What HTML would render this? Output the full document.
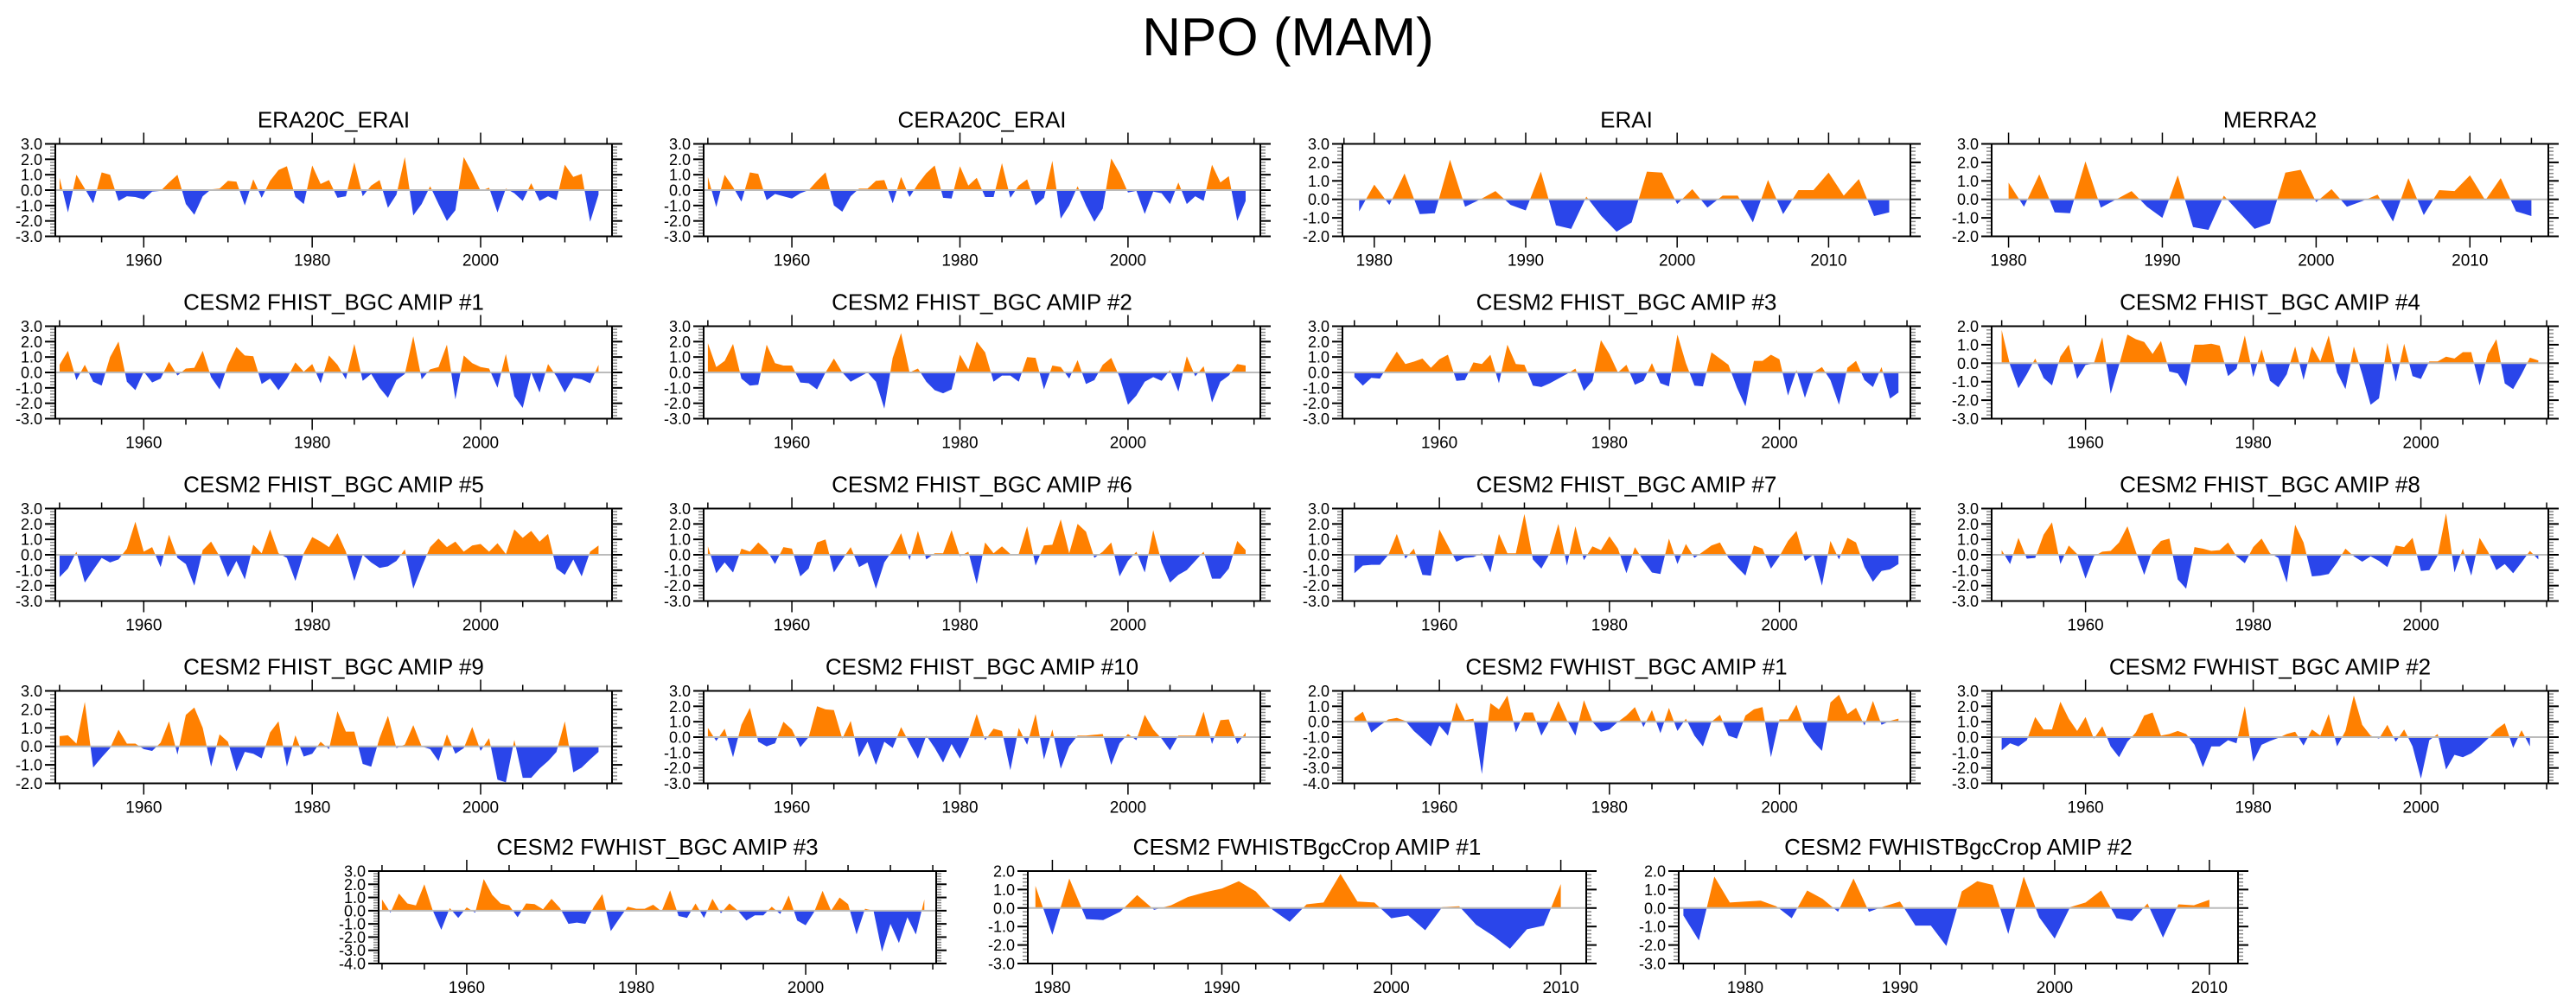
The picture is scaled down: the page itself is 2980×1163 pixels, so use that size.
<!DOCTYPE html>
<html>
<head>
<meta charset="utf-8">
<style>
  html,body{margin:0;padding:0;background:#fff;}
  svg{display:block;}
  text{font-family:"Liberation Sans",Arial,sans-serif;fill:#000;}
</style>
</head>
<body>
<svg id="chart" xmlns="http://www.w3.org/2000/svg" width="2980" height="1163" viewBox="0 0 2980 1163">
  <rect x="0" y="0" width="2980" height="1163" fill="#fff"/>
  <text x="1490" y="64" font-size="62" text-anchor="middle">NPO (MAM)</text>
  <g id="panels"></g>
</svg>
<script>
// ---- data (values per year) ----
const era20cErai = [0.8,-1.45,1.0,0.1,-0.85,1.15,1.0,-0.7,-0.4,-0.45,-0.6,-0.1,-0.05,0.5,1.0,-0.9,-1.6,-0.4,0.05,0.1,0.6,0.55,-1.0,0.7,-0.5,0.6,1.3,1.55,-0.45,-0.9,1.6,0.4,0.65,-0.5,-0.4,1.8,-0.4,0.3,0.65,-1.15,-0.3,2.15,-1.65,-0.9,0.25,-0.9,-2.0,-1.3,2.15,1.1,-0.05,0.15,-1.45,0.1,-0.2,-0.7,0.45,-0.7,-0.4,-0.65,1.65,0.85,1.05,-2.05,-0.3];
const cera20cErai = [0.85,-1.1,1.0,0.2,-0.75,1.15,1.05,-0.65,-0.25,-0.4,-0.55,-0.2,0.0,0.6,1.15,-1.0,-1.4,-0.4,0.1,0.1,0.6,0.65,-0.85,0.85,-0.45,0.4,1.1,1.6,-0.5,-0.55,1.55,0.3,0.8,-0.45,-0.45,1.75,-0.5,0.3,0.7,-1.0,-0.5,1.9,-1.85,-1.0,0.25,-1.0,-2.05,-1.2,2.05,1.1,-0.15,-0.05,-1.55,-0.1,-0.2,-0.9,0.5,-0.9,-0.4,-0.7,1.65,0.5,0.9,-2.0,-0.7];
const erai = [-0.65,0.8,-0.3,1.4,-0.8,-0.75,2.15,-0.4,0.0,0.45,-0.3,-0.6,1.5,-1.4,-1.6,0.15,-0.9,-1.75,-1.25,1.5,1.45,-0.25,0.55,-0.45,0.2,0.2,-1.25,1.05,-0.8,0.5,0.5,1.45,0.2,1.1,-0.9,-0.7];
const merra2 = [0.9,-0.4,1.35,-0.7,-0.75,2.05,-0.45,0.0,0.45,-0.4,-1.0,1.3,-1.5,-1.65,0.2,-0.7,-1.6,-1.3,1.45,1.6,-0.15,0.55,-0.4,-0.1,0.25,-1.2,1.15,-0.85,0.5,0.45,1.3,-0.05,1.15,-0.65,-0.9];
const fhist1 = [0.5,1.4,-0.5,0.5,-0.6,-0.85,1.0,2.0,-0.6,-1.15,0.05,-0.65,-0.4,0.7,-0.2,0.25,0.3,1.4,-0.3,-1.1,0.5,1.65,1.1,1.05,-0.75,-0.4,-1.15,-0.4,0.65,0.05,0.55,-0.7,1.1,0.5,-0.45,1.85,-0.55,-0.1,-1.0,-1.65,-0.5,-0.1,2.35,-0.45,0.2,0.35,1.8,-1.75,1.1,0.6,0.35,0.25,-1.0,1.2,-1.55,-2.3,0.0,-1.3,0.55,-0.25,-1.3,-0.35,-0.45,-0.7,0.5];
const fhist2 = [1.9,0.35,0.75,1.85,-0.4,-0.85,-0.8,1.8,0.6,0.45,0.45,-0.65,-0.7,-1.1,0.0,0.9,0.0,-0.6,-0.3,0.0,-0.6,-2.35,0.95,2.55,0.0,0.25,-0.6,-1.15,-1.35,-1.1,1.15,0.2,2.0,1.3,-0.6,-0.2,-0.2,-0.6,1.0,0.95,-1.1,0.45,0.35,-0.4,0.8,-0.75,-0.5,0.5,0.95,-0.3,-2.1,-1.5,-0.6,-0.3,-0.55,0.15,-1.25,1.05,-0.25,0.4,-1.95,-0.6,-0.2,0.55,0.45];
const fhist3 = [-0.3,-0.85,-0.35,-0.4,0.5,1.35,0.55,0.7,0.9,0.3,0.85,1.15,-0.55,-0.5,0.65,0.55,1.15,-0.7,1.8,0.55,0.5,-0.85,-0.95,-0.7,-0.4,-0.1,0.25,-1.2,-0.55,2.1,1.2,0.0,0.5,-0.8,-0.55,0.6,-0.7,-0.9,2.45,0.6,-0.85,-0.9,1.3,0.9,0.5,-1.0,-2.2,0.75,0.75,1.15,0.85,-1.5,0.15,-1.65,0.0,0.35,-0.5,-2.1,0.3,0.75,-0.5,-0.95,0.35,-1.7,-1.3];
const fhist4 = [1.8,-0.1,-1.35,-0.6,0.25,-0.8,-1.2,0.35,1.0,-0.85,-0.1,0.0,1.4,-1.65,-0.1,1.55,1.3,1.15,0.5,1.2,-0.45,-0.55,-1.25,1.0,1.0,1.05,0.95,-0.7,-0.3,1.5,-0.75,0.75,-0.95,-1.3,-0.6,0.9,-0.9,0.9,0.1,1.5,-0.5,-1.4,0.9,-0.6,-2.25,-1.9,1.1,-1.0,1.05,-0.7,-0.85,0.1,0.1,0.35,0.25,0.6,0.6,-1.2,0.5,1.3,-1.1,-1.4,-0.6,0.3,0.15];
const fhist5 = [-1.45,-0.9,0.2,-1.8,-1.0,-0.2,-0.5,-0.3,0.4,2.15,0.2,0.5,-0.8,1.3,-0.2,-0.6,-2.0,0.3,0.85,-0.1,-1.45,-0.4,-1.6,0.65,0.1,1.65,0.1,-0.2,-1.7,0.1,1.15,0.85,0.5,1.4,0.2,-1.7,0.0,-0.5,-0.85,-0.75,-0.4,0.35,-2.2,-0.8,0.5,1.05,0.5,0.85,0.2,0.6,0.7,0.2,0.75,0.05,1.65,1.1,1.55,0.85,1.35,-0.9,-1.3,-0.3,-1.4,0.2,0.6];
const fhist6 = [0.55,-1.2,-0.5,-1.15,0.4,0.2,0.8,0.3,-0.6,0.5,0.4,-1.4,-0.9,0.8,1.0,-1.15,-0.3,0.5,-0.8,-0.5,-2.2,-0.5,0.3,1.4,-0.35,1.55,-0.3,0.1,0.1,1.6,-0.1,0.2,-1.9,0.8,0.1,0.55,0.05,0.05,1.85,-0.7,0.6,0.65,2.3,0.1,2.0,1.5,-0.2,0.2,0.8,-1.4,-0.4,0.2,-1.15,1.6,-0.5,-1.8,-1.3,-1.0,-0.4,0.2,-1.55,-1.55,-0.9,0.9,0.3];
const fhist7 = [-1.2,-0.7,-0.65,-0.65,0.0,1.35,-0.25,0.4,-1.3,-1.35,1.65,0.6,-0.45,-0.2,-0.15,0.1,-1.15,1.35,0.1,0.1,2.65,-0.3,-0.9,0.1,2.0,-0.7,1.85,-0.35,0.55,0.3,1.2,0.4,-1.2,0.5,-0.4,-1.15,-1.25,1.05,-0.6,0.7,-0.2,0.2,0.6,0.8,-0.2,-0.8,-1.35,0.6,0.4,-0.9,-0.1,0.9,1.55,-0.4,0.0,-2.0,0.9,-0.3,1.1,0.8,-0.8,-1.75,-1.05,-0.95,-0.6];
const fhist8 = [0.3,-0.6,1.1,-0.25,-0.2,1.3,2.1,-0.6,0.6,0.05,-1.55,-0.1,0.2,0.25,0.8,1.85,0.2,-1.3,0.3,0.9,1.05,-1.6,-2.2,0.5,0.4,0.25,0.3,0.8,-0.1,-0.55,0.5,1.05,0.1,-0.2,-1.8,1.95,0.8,-1.4,-1.35,-1.25,-0.5,0.4,-0.1,-0.45,-0.1,-0.4,-0.8,0.6,0.5,1.1,-1.05,-1.0,-0.05,2.7,-1.15,0.4,-1.35,1.1,0.2,-1.0,-0.6,-1.2,-0.5,0.25,-0.3];
const fhist9 = [0.55,0.6,0.15,2.4,-1.15,-0.6,-0.1,0.9,0.15,0.15,-0.15,-0.25,0.2,1.35,-0.45,1.7,2.1,1.0,-1.1,0.65,0.25,-1.35,-0.3,-0.4,-0.65,0.75,1.35,-1.1,0.6,-0.55,-0.4,0.25,-0.15,1.9,0.8,0.8,-0.95,-1.1,0.45,1.65,-0.1,0.1,1.15,0.0,-0.15,-0.8,0.65,-0.4,-0.1,1.05,-0.25,0.45,-1.8,-1.95,0.35,-1.7,-1.7,-1.2,-0.8,-0.3,1.35,-1.4,-1.15,-0.7,-0.3];
const fhist10 = [0.6,-0.25,0.55,-1.3,0.8,1.9,-0.3,-0.6,-0.4,1.0,0.5,-0.65,0.0,2.0,1.8,1.75,-0.1,1.05,-1.3,-0.3,-1.8,-0.3,-0.7,0.65,-0.4,-1.4,0.1,-0.7,-1.65,-0.45,-1.4,-0.2,1.5,-0.2,0.55,0.4,-2.15,0.6,-0.5,1.5,-1.45,0.5,-2.05,-0.6,0.1,0.1,0.15,0.2,-1.8,-0.4,0.2,-0.2,1.45,0.5,-0.1,-0.85,0.1,0.1,0.1,1.65,-0.45,1.1,1.15,-0.45,0.3];
const fwhist1 = [0.25,0.65,-0.7,-0.25,0.15,0.25,0.05,-0.6,-1.1,-1.6,-0.25,-0.9,1.25,0.1,0.2,-3.4,1.2,0.8,1.7,-0.7,0.6,0.6,-0.9,0.1,1.35,0.1,-0.9,1.4,0.0,-0.65,-0.5,0.0,0.4,0.95,-0.35,0.75,-0.75,0.9,-0.6,0.2,-0.9,-1.6,0.0,0.45,-0.9,-1.1,0.4,0.8,0.95,-2.3,0.15,0.15,1.1,-0.5,-1.3,-1.9,1.25,1.75,0.5,0.9,-0.25,1.35,-0.2,0.05,0.2];
const fwhist2 = [-0.85,-0.4,-0.6,-0.2,1.3,0.5,0.5,2.3,1.2,0.4,1.3,-0.1,0.7,-0.6,-1.3,-0.3,0.3,1.4,1.6,0.1,0.2,0.4,0.2,-0.5,-1.95,-0.6,-0.6,-0.2,-0.4,2.0,-1.6,-0.5,-0.25,-0.05,0.2,0.35,-0.55,0.5,0.1,1.5,-0.6,0.4,2.7,0.8,0.1,-0.1,0.8,-0.3,0.5,-0.6,-2.7,-0.2,0.2,-2.1,-1.15,-1.3,-1.05,-0.6,-0.1,0.5,0.9,-0.7,0.45,-0.6];
const fwhist3 = [0.85,-0.15,1.3,0.55,0.4,2.0,0.0,-1.45,0.2,-0.55,0.25,-0.15,2.4,1.2,0.55,0.4,-0.5,0.55,0.5,0.1,0.9,0.2,-1.0,-0.9,-1.0,0.3,1.25,-1.55,-0.6,0.3,0.15,0.15,0.45,-0.05,1.55,-0.4,-0.55,0.55,-0.55,0.9,-0.2,0.55,0.0,-0.75,-0.35,-0.35,0.3,-0.25,1.15,-0.75,-1.1,-0.1,1.5,0.0,1.0,0.5,-1.8,0.15,0.0,-3.1,-1.0,-2.45,-0.5,-1.8,0.85];
const crop1 = [1.2,-1.45,1.6,-0.6,-0.65,-0.2,0.7,-0.1,0.15,0.6,0.85,1.05,1.45,0.9,-0.1,-0.75,0.2,0.3,1.85,0.35,0.3,-0.55,-0.4,-1.2,0.05,0.1,-0.9,-1.5,-2.2,-1.15,-0.95,1.3];
const crop2 = [-0.4,-1.75,1.7,0.3,0.35,0.4,0.1,-0.55,0.95,0.5,-0.2,1.6,-0.2,0.1,0.35,-0.95,-0.95,-2.05,0.9,1.45,1.25,-1.4,1.7,-0.5,-1.65,0.05,0.3,0.95,-0.55,-0.7,0.25,-1.6,0.2,0.15,0.45];

const titles = ["ERA20C_ERAI","CERA20C_ERAI","ERAI","MERRA2",
  "CESM2 FHIST_BGC AMIP #1","CESM2 FHIST_BGC AMIP #2","CESM2 FHIST_BGC AMIP #3","CESM2 FHIST_BGC AMIP #4",
  "CESM2 FHIST_BGC AMIP #5","CESM2 FHIST_BGC AMIP #6","CESM2 FHIST_BGC AMIP #7","CESM2 FHIST_BGC AMIP #8",
  "CESM2 FHIST_BGC AMIP #9","CESM2 FHIST_BGC AMIP #10","CESM2 FWHIST_BGC AMIP #1","CESM2 FWHIST_BGC AMIP #2",
  "CESM2 FWHIST_BGC AMIP #3","CESM2 FWHISTBgcCrop AMIP #1","CESM2 FWHISTBgcCrop AMIP #2"];
const seriesList = [era20cErai,cera20cErai,erai,merra2,fhist1,fhist2,fhist3,fhist4,fhist5,fhist6,fhist7,fhist8,fhist9,fhist10,fwhist1,fwhist2,fwhist3,crop1,crop2];
const startYears = [1950,1950,1979,1980,1950,1950,1950,1950,1950,1950,1950,1950,1950,1950,1950,1950,1950,1979,1976];
const yMins = [-3,-3,-2,-2,-3,-3,-3,-3,-3,-3,-3,-3,-2,-3,-4,-3,-4,-3,-3];
const yMaxs = [3,3,3,3,3,3,3,2,3,3,3,3,3,3,2,3,3,2,2];
const xMins = [1949.5,1949.5,1977.9,1978.9,1949.5,1949.5,1948.6,1948.8,1949.5,1949.5,1948.6,1948.8,1949.5,1949.5,1948.6,1948.8,1949.6,1978.55,1975.7];
const xMaxs = [2015.6,2015.75,2015.4,2015.1,2015.6,2015.75,2015.4,2015.2,2015.6,2015.75,2015.4,2015.2,2015.6,2015.75,2015.4,2015.2,2015.4,2011.5,2011.85];

// ---- layout ----
const colL = [64,814,1553,2304], colR = [708,1458,2210,2948];
const rowT = [166.5,377.5,588.5,799.5,1008];
const H = 107;
const r5L = [438,1189,1942], r5R = [1083,1835,2589];

const NS = "http://www.w3.org/2000/svg";
const root = document.getElementById('panels');
function el(tag, attrs, parent){
  const e = document.createElementNS(NS, tag);
  for (const k in attrs) e.setAttribute(k, attrs[k]);
  (parent||root).appendChild(e);
  return e;
}

seriesList.forEach((vals, p) => {
  let L, R, T;
  if (p < 16) { L = colL[p%4]; R = colR[p%4]; T = rowT[Math.floor(p/4)]; }
  else { L = r5L[p-16]; R = r5R[p-16]; T = rowT[4]; }
  const B = T + H;
  const x0 = xMins[p], x1 = xMaxs[p], y0 = yMins[p], y1 = yMaxs[p];
  const xs = yr => L + (yr - x0) / (x1 - x0) * (R - L);
  const ys = v => B - (v - y0) / (y1 - y0) * H;
  const g = el('g', {});
  
  

  const t = el('text', {x:(L+R)/2, y:T-19, 'font-size':26, 'text-anchor':'middle'}, g);
  t.textContent = titles[p];
  
  

  // area fills
  const y0px = ys(0);
  let pts = xs(startYears[p]).toFixed(1) + ',' + y0px.toFixed(1);
  vals.forEach((v,i) => { pts += ' ' + xs(startYears[p]+i).toFixed(1) + ',' + ys(v).toFixed(1); });
  pts += ' ' + xs(startYears[p]+vals.length-1).toFixed(1) + ',' + y0px.toFixed(1);
  const cidA = 'ca'+p, cidB = 'cb'+p;
  const defs = el('defs', {}, g);
  const cpA = el('clipPath', {id:cidA}, defs);
  el('rect', {x:L, y:T, width:R-L, height:y0px-T}, cpA);
  const cpB = el('clipPath', {id:cidB}, defs);
  el('rect', {x:L, y:y0px, width:R-L, height:B-y0px}, cpB);
  const pos = el('polygon', {points:pts, fill:'#ff8000', 'clip-path':'url(#'+cidA+')'}, g);
  
  
  const neg = el('polygon', {points:pts, fill:'#2a45ea', 'clip-path':'url(#'+cidB+')'}, g);
  
  
  const zl = el('line', {x1:L, x2:R, y1:y0px, y2:y0px, stroke:'#bbbbbb', 'stroke-width':2}, g);
  
  

  // y ticks
  for (let k = Math.round(y0*5); k <= Math.round(y1*5); k++) {
    const v = k/5, yy = ys(v), major = (k % 5 === 0);
    const len = major ? 12 : 6, col = major ? '#000' : '#888';
    el('line', {x1:L-len, x2:L, y1:yy, y2:yy, stroke:col, 'stroke-width':major?2:1.5}, g);
    el('line', {x1:R, x2:R+len, y1:yy, y2:yy, stroke:col, 'stroke-width':major?2:1.5}, g);
    if (major) {
      const lb = el('text', {x:L-15, y:yy+6.5, 'font-size':18, 'text-anchor':'end'}, g);
      lb.textContent = v.toFixed(1);
      
      
    }
  }
  // x ticks
  const span = x1 - x0;
  const minorStep = span > 50 ? 5 : 2, majorStep = span > 50 ? 20 : 10;
  for (let yr = Math.ceil(x0/minorStep)*minorStep; yr <= x1; yr += minorStep) {
    const xx = xs(yr);
    const major = (span > 50) ? ((yr - 1960) % 20 === 0) : (yr % 10 === 0);
    const len = major ? 13 : 7;
    el('line', {x1:xx, x2:xx, y1:B, y2:B+len, stroke:'#000', 'stroke-width':1.5}, g);
    el('line', {x1:xx, x2:xx, y1:T-len, y2:T, stroke:'#000', 'stroke-width':1.5}, g);
    if (major) {
      const lb = el('text', {x:xx, y:B+34, 'font-size':19, 'text-anchor':'middle'}, g);
      lb.textContent = yr;
      
      
    }
  }
  const box = el('rect', {x:L, y:T, width:R-L, height:H, fill:'none', stroke:'#000', 'stroke-width':2}, g);
  
  
});
</script>
</body>
</html>
